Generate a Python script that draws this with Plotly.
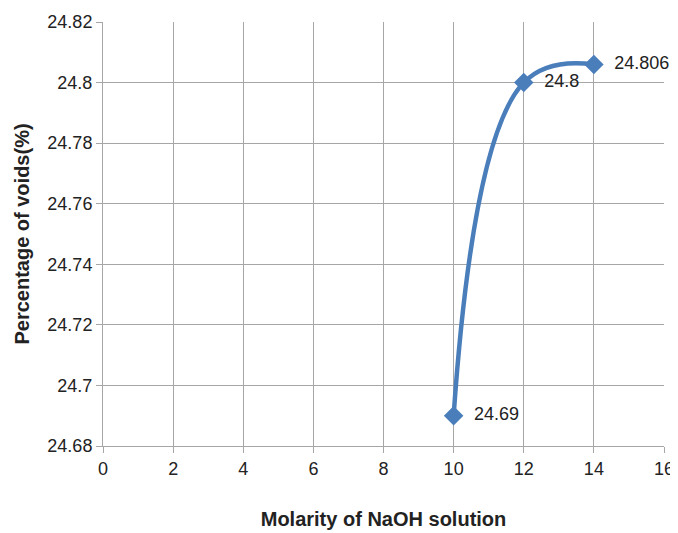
import plotly.graph_objects as go

molarity = [10, 12, 14]
voids = [24.69, 24.8, 24.806]
labels = ["24.69", "24.8", "24.806"]
x_ticks = [0, 2, 4, 6, 8, 10, 12, 14, 16]
y_ticks = [24.68, 24.7, 24.72, 24.74, 24.76, 24.78, 24.8, 24.82]
y_tick_text = ["24.68", "24.7", "24.72", "24.74", "24.76", "24.78", "24.8", "24.82"]

FONT = "Liberation Sans, Arial, sans-serif"
BLUE = "#4a7ebb"
GRID = "#a6a6a6"

fig = go.Figure()
fig.add_trace(go.Scatter(
    x=molarity, y=voids, text=labels,
    mode="lines+markers+text",
    line=dict(color=BLUE, width=4.5, shape="spline", smoothing=1.2),
    marker=dict(symbol="diamond", size=15, color=BLUE),
    texttemplate="  %{text}",
    textposition="middle right",
    textfont=dict(family=FONT, size=18, color="#222"),
    cliponaxis=False,
))

fig.update_layout(
    width=670, height=525,
    margin=dict(l=95, r=14, t=14, b=87, autoexpand=False),
    paper_bgcolor="white", plot_bgcolor="white",
    showlegend=False,
    font=dict(family=FONT, size=18, color="#222"),
)
fig.update_xaxes(
    range=[0, 16], tickvals=x_ticks, ticktext=[str(v) for v in x_ticks],
    showgrid=True, gridcolor=GRID, gridwidth=1,
    showline=True, linecolor=GRID, linewidth=1,
    ticks="outside", ticklen=6, tickcolor=GRID,
    zeroline=False, automargin=False,
    title=dict(text="<b>Molarity of NaOH solution</b>", font=dict(family=FONT, size=20), standoff=34),
    tickfont=dict(family=FONT, size=18),
)
fig.update_yaxes(
    range=[24.68, 24.82], tickvals=y_ticks, ticktext=y_tick_text,
    showgrid=True, gridcolor=GRID, gridwidth=1,
    showline=True, linecolor=GRID, linewidth=1,
    ticks="outside", ticklen=6, tickcolor=GRID,
    zeroline=False, automargin=False,
    title=dict(text="<b>Percentage of voids(%)</b>", font=dict(family=FONT, size=20), standoff=12),
    tickfont=dict(family=FONT, size=18),
)
fig.write_html("out.html")
